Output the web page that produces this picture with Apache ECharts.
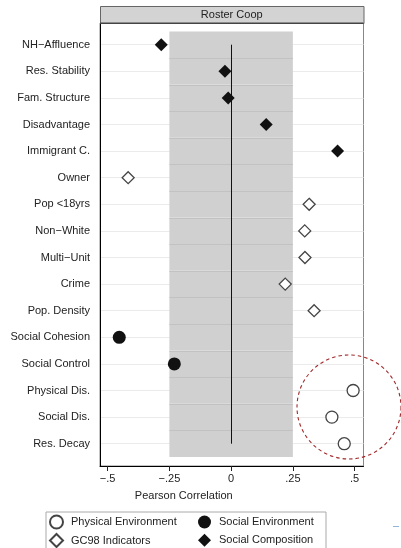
<!DOCTYPE html>
<html>
<head>
<meta charset="utf-8">
<script src="https://cdn.jsdelivr.net/npm/echarts@6/dist/echarts.min.js"></script>
<style>
  html, body { margin: 0; padding: 0; background: #fff; }
  #chart { width: 401px; height: 548px; }
</style>
</head>
<body>
<div id="chart"></div>
<script>
// Neighbourhood measures, top to bottom
const categories = [
  'NH\u2212Affluence', 'Res. Stability', 'Fam. Structure', 'Disadvantage', 'Immigrant C.',
  'Owner', 'Pop <18yrs', 'Non\u2212White', 'Multi\u2212Unit', 'Crime', 'Pop. Density',
  'Social Cohesion', 'Social Control',
  'Physical Dis.', 'Social Dis.', 'Res. Decay'
];

// Pearson correlations by measure group
const socialComposition = [
  ['NH\u2212Affluence', -0.283], ['Res. Stability', -0.025], ['Fam. Structure', -0.012],
  ['Disadvantage', 0.142], ['Immigrant C.', 0.431]
];
const gc98Indicators = [
  ['Owner', -0.417], ['Pop <18yrs', 0.316], ['Non\u2212White', 0.298],
  ['Multi\u2212Unit', 0.299], ['Crime', 0.219], ['Pop. Density', 0.336]
];
const socialEnvironment = [
  ['Social Cohesion', -0.453], ['Social Control', -0.230]
];
const physicalEnvironment = [
  ['Physical Dis.', 0.494], ['Social Dis.', 0.408], ['Res. Decay', 0.458]
];

// x axis ticks
const tickValues = [-0.5, -0.25, 0, 0.25, 0.5];
const tickLabels = ['\u2212.5', '\u2212.25', '0', '.25', '.5'];

const panelTitle = 'Roster Coop';
const bandLow = -0.25, bandHigh = 0.25;

const FONT = '"Liberation Sans", Arial, sans-serif';
const TXT = '#222';
const xMin = -0.531, xMax = 0.536;

const chart = echarts.init(document.getElementById('chart'), null, { renderer: 'canvas' });

const hollow = { color: '#fff', borderColor: '#444', borderWidth: 1.3, opacity: 1 };
const solid = { color: '#111', borderColor: '#111', borderWidth: 0, opacity: 1 };

const legendCommon = {
  orient: 'vertical', padding: 0, height: 40,
  itemWidth: 13, itemHeight: 13,
  textStyle: { fontSize: 11, color: TXT, fontFamily: FONT, padding: [0, 0, 0, 3] }
};

chart.setOption({
  animation: false,
  backgroundColor: '#fff',
  textStyle: { fontFamily: FONT },
  grid: [
    // data grid: first/last category on its top/bottom edge
    { left: 100, right: 37.5, top: 44.7, bottom: 104.3, outerBoundsMode: 'none', containLabel: false },
    // frame grid: axis lines and panel border
    { left: 100, right: 37.5, top: 23, bottom: 82, show: true, borderColor: '#888', borderWidth: 1,
      backgroundColor: 'transparent', outerBoundsMode: 'none', containLabel: false }
  ],
  xAxis: [
    { type: 'value', gridIndex: 0, min: xMin, max: xMax, show: false },
    {
      type: 'value', gridIndex: 1, min: xMin, max: xMax,
      axisLine: { show: true, onZero: false, lineStyle: { color: '#000', width: 1 } },
      axisTick: { show: true, length: 5, lineStyle: { color: '#222' }, customValues: tickValues },
      axisLabel: {
        show: true, margin: 7, fontSize: 11, color: TXT, fontFamily: FONT,
        customValues: tickValues,
        formatter: v => {
          const i = tickValues.findIndex(t => Math.abs(t - v) < 1e-9);
          return i >= 0 ? tickLabels[i] : '';
        }
      },
      splitLine: { show: false },
      name: 'Pearson Correlation', nameLocation: 'middle', nameGap: 24,
      nameTextStyle: { fontSize: 11, color: TXT, fontFamily: FONT, padding: [0, 96, 0, 0] }
    }
  ],
  yAxis: [
    {
      type: 'category', gridIndex: 0, data: categories, inverse: true, boundaryGap: false,
      axisLine: { show: false },
      axisTick: { show: true, length: 6, alignWithLabel: true, lineStyle: { color: '#333' } },
      axisLabel: { show: true, margin: 10, fontSize: 11, color: TXT, fontFamily: FONT, interval: 0 },
      splitLine: { show: true, interval: 0, lineStyle: { color: '#ebebeb', width: 1 } }
    },
    {
      type: 'value', gridIndex: 1, min: 0, max: 1,
      axisLine: { show: true, onZero: false, lineStyle: { color: '#000', width: 1 } },
      axisTick: { show: false }, axisLabel: { show: false }, splitLine: { show: false }
    }
  ],
  legend: [
    Object.assign({}, legendCommon, {
      left: 49, top: 514.5, itemGap: 3.5,
      data: [
        { name: 'Physical Environment', icon: 'circle' },
        { name: 'GC98 Indicators', icon: 'diamond' }
      ]
    }),
    Object.assign({}, legendCommon, {
      left: 198, top: 515.5, itemGap: 5.3,
      data: [
        { name: 'Social Environment', icon: 'circle' },
        { name: 'Social Composition', icon: 'diamond' }
      ]
    })
  ],
  series: [
    {
      // shaded band from -.25 to .25, one block per row
      type: 'custom', xAxisIndex: 0, yAxisIndex: 0, z: 1, silent: true,
      data: categories.map((c, i) => [i]),
      renderItem: (params, api) => {
        const i = api.value(0);
        const h = api.size([0, 1])[1];
        const pL = api.coord([bandLow, i]);
        const pR = api.coord([bandHigh, i]);
        const top = pL[1] - h / 2;
        const children = [{
          type: 'rect',
          shape: { x: pL[0], y: top, width: pR[0] - pL[0], height: h },
          style: { fill: '#d0d0d0' }
        }];
        if (i > 0) {
          children.push({
            type: 'line',
            shape: { x1: pL[0], y1: Math.round(top) + 0.5, x2: pR[0], y2: Math.round(top) + 0.5 },
            style: { stroke: '#c2c2c2', lineWidth: 1 }
          });
        }
        return { type: 'group', children };
      },
      markLine: {
        silent: true, symbol: 'none', label: { show: false },
        lineStyle: { color: '#111', width: 1, type: 'solid' },
        data: [{ xAxis: 0 }]
      }
    },
    {
      name: 'Physical Environment', type: 'scatter', xAxisIndex: 0, yAxisIndex: 0, z: 3,
      symbol: 'circle', symbolSize: 12, itemStyle: hollow,
      data: physicalEnvironment.map(d => [d[1], d[0]])
    },
    {
      name: 'Social Environment', type: 'scatter', xAxisIndex: 0, yAxisIndex: 0, z: 3,
      symbol: 'circle', symbolSize: 13, itemStyle: solid,
      data: socialEnvironment.map(d => [d[1], d[0]])
    },
    {
      name: 'GC98 Indicators', type: 'scatter', xAxisIndex: 0, yAxisIndex: 0, z: 3,
      symbol: 'diamond', symbolSize: 12, itemStyle: hollow,
      data: gc98Indicators.map(d => [d[1], d[0]])
    },
    {
      name: 'Social Composition', type: 'scatter', xAxisIndex: 0, yAxisIndex: 0, z: 3,
      symbol: 'diamond', symbolSize: 13, itemStyle: solid,
      data: socialComposition.map(d => [d[1], d[0]])
    }
  ],
  graphic: [
    // panel header strip
    {
      type: 'rect', left: 100, top: 6, z: 10,
      shape: { width: 263.5, height: 17 },
      style: { fill: '#d3d3d3', stroke: '#666', lineWidth: 1 }
    },
    {
      type: 'line', z: 11,
      shape: { x1: 100, y1: 23.2, x2: 363.5, y2: 23.2 },
      style: { stroke: '#444', lineWidth: 1.5 }
    },
    {
      type: 'text', x: 231.75, y: 14.8, z: 12,
      style: { text: panelTitle, font: '11px ' + FONT, fill: TXT, align: 'center', verticalAlign: 'middle' }
    },
    // legend frame
    {
      type: 'rect', left: 43.5, top: 509.5, z: 0,
      shape: { width: 280, height: 50 },
      style: { fill: 'none', stroke: '#aaa', lineWidth: 1 }
    },
    // dashed highlight ring
    {
      type: 'circle', z: 20, silent: true,
      shape: { cx: 349, cy: 407, r: 52 },
      style: { fill: 'none', stroke: '#a0282a', lineWidth: 1.1, lineDash: [3.5, 3] }
    },
    {
      type: 'line', z: 20,
      shape: { x1: 393, y1: 526.5, x2: 399, y2: 526.5 },
      style: { stroke: '#8fb6dc', lineWidth: 1 }
    }
  ]
});
</script>
</body>
</html>
